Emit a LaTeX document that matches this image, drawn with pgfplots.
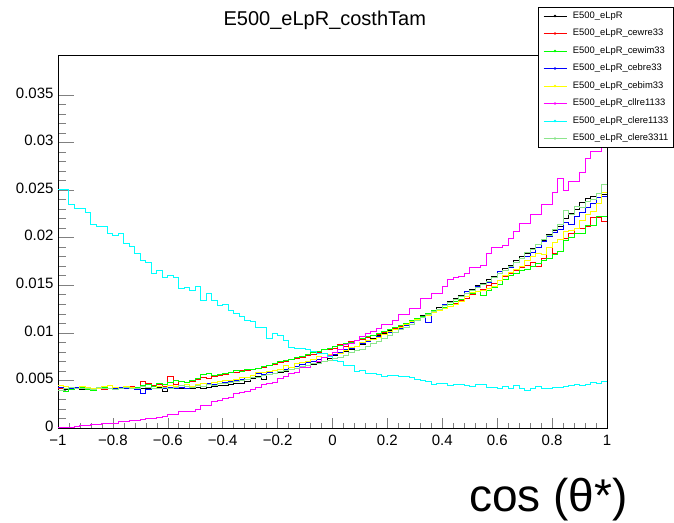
\documentclass[border=0pt]{standalone}
\usepackage{pgfplots}
\pgfplotsset{compat=1.18}
\usepackage{fontspec}
\setmainfont{Liberation Sans}
\definecolor{rootlgreen}{rgb}{0.55,0.9,0.55}
\definecolor{rootred}{rgb}{1,0,0}
\definecolor{rootgreen}{rgb}{0,1,0}
\definecolor{rootblue}{rgb}{0,0,1}
\definecolor{rootyellow}{rgb}{1,1,0}
\definecolor{rootmagenta}{rgb}{1,0,1}
\definecolor{rootcyan}{rgb}{0,1,1}
\begin{document}
\begin{tikzpicture}
\path[use as bounding box] (0,0) rectangle (674bp,523bp);
\begin{axis}[
  at={(58bp,95bp)}, anchor=south west,
  scale only axis, width=549bp, height=373bp,
  xmin=-1, xmax=1, ymin=0, ymax=0.0392,
  enlargelimits=false,
  axis line style={line width=0.8bp},
  tick align=inside, xtick pos=bottom, ytick pos=left,
  major tick length=16bp, minor tick length=8bp,
  xtick style={/pgfplots/major tick length=10bp, /pgfplots/minor tick length=5bp, line width=0.6bp},
  ytick style={line width=0.6bp},
  xtick={-1,-0.8,-0.6,-0.4,-0.2,0,0.2,0.4,0.6,0.8,1},
  xticklabels={−1,−0.8,−0.6,−0.4,−0.2,0,0.2,0.4,0.6,0.8,1},
  ytick={0,0.005,0.01,0.015,0.02,0.025,0.03,0.035},
  yticklabels={0,0.005,0.01,0.015,0.02,0.025,0.03,0.035},
  scaled y ticks=false,
  minor x tick num=4, minor y tick num=4,
  ticklabel style={font=\fontsize{15bp}{18bp}\selectfont},
  xticklabel style={yshift=-4bp},
  yticklabel style={xshift=-1bp, yshift=2bp},
  title={E500\_eLpR\_costhTam},
  title style={at={(axis description cs:0.486,1.062)}, anchor=base, inner sep=0pt, font=\fontsize{20bp}{24bp}\selectfont},
  xlabel={cos (θ*)},
  xlabel style={at={(axis description cs:1.038,-0.193)}, anchor=east, inner sep=0pt, font=\fontsize{46bp}{52bp}\selectfont},
  legend style={at={(axis description cs:0.874,1.1287)}, anchor=north west, draw=black, line width=0.6bp, fill=white,
    font=\fontsize{9.4bp}{11bp}\selectfont, inner xsep=5bp, inner ysep=4.2bp, row sep=8.5bp,
    nodes={inner sep=0pt, text height=7bp, text depth=2bp},
    /tikz/every odd column/.append style={column sep=6bp}},
  legend cell align=left,
  legend image code/.code={\draw[#1,line width=0.8bp] (0bp,0bp) -- (23bp,0bp); \fill[#1] (11.5bp,0bp) circle (0.7bp);},
  every axis plot/.append style={const plot, no marks, line width=1bp},
]
% E500_eLpR
\addplot[black] table[x expr={-1+0.02*\coordindex}, y index=0, header=false, row sep=\\] {
0.0041\\0.0040\\0.0042\\0.0041\\0.0040\\0.0041\\0.0042\\0.0041\\0.0040\\0.0041\\
0.0042\\0.0041\\0.0041\\0.0042\\0.0041\\0.0042\\0.0041\\0.0042\\0.0043\\0.0038\\
0.0041\\0.0042\\0.0041\\0.0042\\0.0042\\0.0043\\0.0042\\0.0043\\0.0044\\0.0045\\
0.0045\\0.0046\\0.0047\\0.0047\\0.0049\\0.0052\\0.0054\\0.0051\\0.0056\\0.0057\\
0.0058\\0.0059\\0.0061\\0.0063\\0.0064\\0.0066\\0.0067\\0.0069\\0.0070\\0.0073\\
0.0076\\0.0078\\0.0080\\0.0083\\0.0086\\0.0088\\0.0091\\0.0094\\0.0097\\0.0099\\
0.0102\\0.0104\\0.0107\\0.0110\\0.0112\\0.0115\\0.0118\\0.0120\\0.0124\\0.0127\\
0.0130\\0.0133\\0.0136\\0.0139\\0.0141\\0.0146\\0.0150\\0.0152\\0.0156\\0.0159\\
0.0162\\0.0168\\0.0171\\0.0176\\0.0180\\0.0183\\0.0189\\0.0193\\0.0197\\0.0203\\
0.0208\\0.0212\\0.0220\\0.0225\\0.0230\\0.0237\\0.0241\\0.0243\\0.0246\\0.0245\\0.0245\\
};
\addlegendentry{E500\_eLpR}
% cewre33
\addplot[rootred] table[x expr={-1+0.02*\coordindex}, y index=0, header=false, row sep=\\] {
0.0042\\0.0044\\0.0043\\0.0041\\0.0042\\0.0043\\0.0041\\0.0042\\0.0040\\0.0041\\
0.0043\\0.0042\\0.0041\\0.0044\\0.0043\\0.0049\\0.0047\\0.0045\\0.0046\\0.0044\\
0.0054\\0.0046\\0.0049\\0.0048\\0.0049\\0.0051\\0.0053\\0.0052\\0.0054\\0.0055\\
0.0056\\0.0058\\0.0058\\0.0060\\0.0060\\0.0061\\0.0063\\0.0064\\0.0066\\0.0067\\
0.0069\\0.0070\\0.0072\\0.0073\\0.0074\\0.0076\\0.0077\\0.0079\\0.0082\\0.0083\\
0.0084\\0.0088\\0.0086\\0.0091\\0.0092\\0.0093\\0.0095\\0.0097\\0.0098\\0.0100\\
0.0103\\0.0105\\0.0107\\0.0109\\0.0112\\0.0114\\0.0117\\0.0119\\0.0121\\0.0123\\
0.0126\\0.0128\\0.0131\\0.0134\\0.0136\\0.0140\\0.0143\\0.0146\\0.0150\\0.0152\\
0.0155\\0.0159\\0.0162\\0.0165\\0.0169\\0.0171\\0.0174\\0.0170\\0.0178\\0.0190\\
0.0183\\0.0185\\0.0199\\0.0204\\0.0210\\0.0210\\0.0212\\0.0221\\0.0221\\0.0217\\0.0217\\
};
\addlegendentry{E500\_eLpR\_cewre33}
% cewim33
\addplot[rootgreen] table[x expr={-1+0.02*\coordindex}, y index=0, header=false, row sep=\\] {
0.0039\\0.0038\\0.0040\\0.0042\\0.0043\\0.0040\\0.0039\\0.0041\\0.0043\\0.0042\\
0.0041\\0.0043\\0.0044\\0.0042\\0.0043\\0.0045\\0.0046\\0.0044\\0.0047\\0.0046\\
0.0048\\0.0050\\0.0049\\0.0048\\0.0050\\0.0052\\0.0056\\0.0057\\0.0055\\0.0056\\
0.0057\\0.0058\\0.0060\\0.0059\\0.0061\\0.0062\\0.0063\\0.0065\\0.0066\\0.0068\\
0.0070\\0.0071\\0.0072\\0.0074\\0.0075\\0.0077\\0.0079\\0.0080\\0.0083\\0.0084\\
0.0086\\0.0087\\0.0089\\0.0090\\0.0092\\0.0094\\0.0096\\0.0097\\0.0099\\0.0101\\
0.0104\\0.0106\\0.0108\\0.0110\\0.0113\\0.0115\\0.0117\\0.0120\\0.0123\\0.0125\\
0.0127\\0.0130\\0.0133\\0.0135\\0.0138\\0.0141\\0.0143\\0.0139\\0.0145\\0.0148\\
0.0151\\0.0156\\0.0160\\0.0162\\0.0165\\0.0167\\0.0170\\0.0173\\0.0176\\0.0178\\
0.0182\\0.0186\\0.0197\\0.0200\\0.0204\\0.0204\\0.0213\\0.0213\\0.0222\\0.0222\\0.0222\\
};
\addlegendentry{E500\_eLpR\_cewim33}
% cebre33
\addplot[rootblue] table[x expr={-1+0.02*\coordindex}, y index=0, header=false, row sep=\\] {
0.0043\\0.0042\\0.0041\\0.0043\\0.0042\\0.0041\\0.0042\\0.0043\\0.0041\\0.0042\\
0.0041\\0.0043\\0.0042\\0.0041\\0.0040\\0.0036\\0.0040\\0.0041\\0.0042\\0.0041\\
0.0043\\0.0042\\0.0043\\0.0042\\0.0044\\0.0045\\0.0044\\0.0047\\0.0046\\0.0047\\
0.0048\\0.0049\\0.0050\\0.0051\\0.0053\\0.0055\\0.0057\\0.0056\\0.0058\\0.0060\\
0.0061\\0.0062\\0.0064\\0.0065\\0.0067\\0.0069\\0.0070\\0.0072\\0.0074\\0.0075\\
0.0077\\0.0079\\0.0082\\0.0084\\0.0086\\0.0089\\0.0091\\0.0093\\0.0096\\0.0098\\
0.0100\\0.0103\\0.0105\\0.0108\\0.0111\\0.0113\\0.0116\\0.0111\\0.0121\\0.0125\\
0.0130\\0.0132\\0.0135\\0.0138\\0.0143\\0.0145\\0.0149\\0.0151\\0.0153\\0.0158\\
0.0164\\0.0165\\0.0169\\0.0174\\0.0178\\0.0180\\0.0184\\0.0190\\0.0196\\0.0201\\
0.0205\\0.0209\\0.0216\\0.0214\\0.0222\\0.0227\\0.0232\\0.0236\\0.0242\\0.0243\\0.0243\\
};
\addlegendentry{E500\_eLpR\_cebre33}
% cebim33
\addplot[rootyellow] table[x expr={-1+0.02*\coordindex}, y index=0, header=false, row sep=\\] {
0.0045\\0.0044\\0.0043\\0.0042\\0.0044\\0.0043\\0.0041\\0.0042\\0.0044\\0.0045\\
0.0043\\0.0042\\0.0044\\0.0043\\0.0042\\0.0044\\0.0043\\0.0042\\0.0044\\0.0043\\
0.0045\\0.0044\\0.0045\\0.0046\\0.0044\\0.0046\\0.0047\\0.0046\\0.0048\\0.0049\\
0.0050\\0.0050\\0.0051\\0.0053\\0.0053\\0.0055\\0.0058\\0.0058\\0.0059\\0.0060\\
0.0062\\0.0066\\0.0064\\0.0068\\0.0069\\0.0070\\0.0072\\0.0075\\0.0074\\0.0077\\
0.0079\\0.0078\\0.0081\\0.0085\\0.0086\\0.0090\\0.0092\\0.0093\\0.0095\\0.0098\\
0.0101\\0.0103\\0.0106\\0.0109\\0.0112\\0.0114\\0.0116\\0.0118\\0.0121\\0.0123\\
0.0126\\0.0128\\0.0130\\0.0133\\0.0138\\0.0142\\0.0143\\0.0145\\0.0147\\0.0149\\
0.0155\\0.0160\\0.0163\\0.0167\\0.0170\\0.0176\\0.0180\\0.0183\\0.0182\\0.0190\\
0.0195\\0.0198\\0.0206\\0.0208\\0.0210\\0.0218\\0.0224\\0.0228\\0.0236\\0.0248\\0.0248\\
};
\addlegendentry{E500\_eLpR\_cebim33}
% cllre1133
\addplot[rootmagenta] table[x expr={-1+0.02*\coordindex}, y index=0, header=false, row sep=\\] {
0.0001\\0.0001\\0.0001\\0.0002\\0.0003\\0.0003\\0.00035\\0.0004\\0.0005\\0.0005\\
0.0005\\0.00065\\0.0007\\0.0008\\0.0008\\0.0009\\0.0010\\0.0010\\0.0011\\0.0012\\
0.0014\\0.0014\\0.0017\\0.0017\\0.0017\\0.0019\\0.0024\\0.0024\\0.0028\\0.0029\\
0.0031\\0.0032\\0.0036\\0.0037\\0.0038\\0.0040\\0.0043\\0.0046\\0.0047\\0.0048\\
0.0052\\0.0054\\0.0057\\0.0058\\0.0064\\0.0064\\0.0068\\0.0070\\0.0074\\0.0076\\
0.0079\\0.0082\\0.0088\\0.0089\\0.0092\\0.0096\\0.0099\\0.0101\\0.0105\\0.0109\\
0.0109\\0.0113\\0.0119\\0.0119\\0.0126\\0.0126\\0.0136\\0.0136\\0.0141\\0.0141\\
0.0149\\0.0156\\0.0158\\0.0159\\0.0162\\0.0169\\0.0169\\0.0171\\0.0183\\0.0190\\
0.0190\\0.0192\\0.0199\\0.0206\\0.0215\\0.0215\\0.0224\\0.0224\\0.0235\\0.0235\\
0.0247\\0.0262\\0.0250\\0.0259\\0.0259\\0.0268\\0.0283\\0.0291\\0.0291\\0.0297\\0.0297\\
};
\addlegendentry{E500\_eLpR\_cllre1133}
% clere1133
\addplot[rootcyan] table[x expr={-1+0.02*\coordindex}, y index=0, header=false, row sep=\\] {
0.0251\\0.0251\\0.0235\\0.0231\\0.0231\\0.0227\\0.0214\\0.0212\\0.0212\\0.0204\\
0.0202\\0.0204\\0.0194\\0.0191\\0.0183\\0.0176\\0.0174\\0.0162\\0.0165\\0.0158\\
0.0160\\0.0158\\0.0147\\0.0148\\0.0144\\0.0149\\0.01345\\0.0141\\0.01345\\0.0129\\
0.0130\\0.0124\\0.0120\\0.0117\\0.0113\\0.0112\\0.0106\\0.0106\\0.0094\\0.0099\\
0.0097\\0.0092\\0.0085\\0.0084\\0.0084\\0.0083\\0.0080\\0.0078\\0.0078\\0.0075\\
0.0071\\0.0070\\0.0066\\0.0066\\0.0059\\0.0060\\0.0057\\0.0057\\0.0056\\0.0054\\
0.0055\\0.0055\\0.0054\\0.0054\\0.0053\\0.0051\\0.0050\\0.0049\\0.0046\\0.0047\\
0.0047\\0.0045\\0.0046\\0.0046\\0.0045\\0.0044\\0.0046\\0.0046\\0.0043\\0.0043\\
0.0042\\0.0044\\0.0042\\0.0045\\0.0041\\0.0039\\0.0041\\0.0044\\0.0042\\0.0042\\
0.0043\\0.0043\\0.0044\\0.0045\\0.0046\\0.0045\\0.0046\\0.0048\\0.0047\\0.0049\\0.0049\\
};
\addlegendentry{E500\_eLpR\_clere1133}
% clere3311
\addplot[rootlgreen] table[x expr={-1+0.02*\coordindex}, y index=0, header=false, row sep=\\] {
0.0039\\0.0042\\0.0043\\0.0042\\0.0041\\0.0042\\0.0040\\0.0043\\0.0042\\0.0041\\
0.0040\\0.0042\\0.0043\\0.0041\\0.0042\\0.0044\\0.0043\\0.0041\\0.0042\\0.0043\\
0.0042\\0.0043\\0.0045\\0.0044\\0.0043\\0.0045\\0.0044\\0.0046\\0.0045\\0.0047\\
0.0047\\0.0048\\0.0049\\0.0050\\0.0051\\0.0053\\0.0053\\0.0055\\0.0056\\0.0057\\
0.0059\\0.0060\\0.0062\\0.0063\\0.0065\\0.0066\\0.0068\\0.0068\\0.0070\\0.0071\\
0.0073\\0.0074\\0.0076\\0.0079\\0.0081\\0.0082\\0.0086\\0.0089\\0.0091\\0.0094\\
0.0097\\0.0100\\0.0103\\0.0106\\0.0109\\0.0113\\0.0116\\0.0119\\0.0122\\0.0125\\
0.0129\\0.0132\\0.0135\\0.0138\\0.0141\\0.0144\\0.0148\\0.0151\\0.0154\\0.0158\\
0.0162\\0.0165\\0.0170\\0.0174\\0.0178\\0.0184\\0.0188\\0.0193\\0.0198\\0.0202\\
0.0209\\0.0214\\0.0229\\0.0224\\0.0233\\0.0232\\0.0238\\0.0240\\0.0246\\0.0256\\0.0256\\
};
\addlegendentry{E500\_eLpR\_clere3311}
\end{axis}
\end{tikzpicture}
\end{document}
